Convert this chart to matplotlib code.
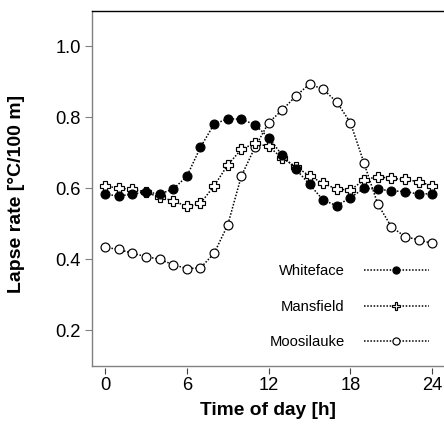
import matplotlib
matplotlib.use("Agg")
import matplotlib.pyplot as plt

plt.rcParams['font.family'] = ['Liberation Sans', 'DejaVu Sans']

hours = list(range(25))
whiteface = [0.583, 0.577, 0.583, 0.589, 0.583, 0.597, 0.633, 0.715, 0.780, 0.795, 0.794, 0.778,
             0.742, 0.692, 0.653, 0.610, 0.566, 0.550, 0.573, 0.599, 0.597, 0.592, 0.590, 0.583, 0.584]
mansfield = [0.606, 0.599, 0.597, 0.588, 0.574, 0.564, 0.548, 0.557, 0.606, 0.665, 0.709, 0.726,
             0.717, 0.684, 0.660, 0.634, 0.613, 0.597, 0.594, 0.623, 0.632, 0.627, 0.624, 0.618, 0.606]
moosilauke = [0.433, 0.427, 0.416, 0.407, 0.399, 0.384, 0.373, 0.375, 0.416, 0.496, 0.634, 0.715,
              0.784, 0.820, 0.859, 0.893, 0.878, 0.842, 0.784, 0.670, 0.555, 0.491, 0.463, 0.454, 0.444]
series_names = ["Whiteface", "Mansfield", "Moosilauke"]
xticks = [0, 6, 12, 18, 24]
yticks = [0.2, 0.4, 0.6, 0.8, 1.0]

W, H = 444, 434
fig = plt.figure(figsize=(W / 100, H / 100), dpi=100)
ax = fig.add_axes([92 / W, 1 - 366 / H, 1 - 92 / W + 0.002, (366 - 11) / H])

ls = (0, (1, 1.1))
common = dict(color='black', linestyle=ls, linewidth=1.1, markeredgewidth=0.85)
ax.plot(hours, moosilauke, marker='o', markerfacecolor='white', markeredgecolor='black',
        markersize=6.4, label=series_names[2], zorder=3, **common)
ax.plot(hours, mansfield, marker='P', markerfacecolor='white', markeredgecolor='black',
        markersize=7.6, label=series_names[1], zorder=4, **common)
ax.plot(hours, whiteface, marker='o', markerfacecolor='black', markeredgecolor='black',
        markersize=6.4, label=series_names[0], zorder=5, **common)

ax.set_xlim(-0.96, 24.93)
ax.set_ylim(0.0986, 1.0986)
ax.set_xticks(xticks)
ax.set_xticklabels([str(v) for v in xticks])
ax.set_yticks(yticks)
ax.set_yticklabels([f"{v:.1f}" for v in yticks])

gray = '#808080'
ax.spines['right'].set_visible(False)
ax.spines['top'].set_color('black')
ax.spines['top'].set_linewidth(1.0)
ax.spines['left'].set_color(gray)
ax.spines['left'].set_linewidth(1.0)
ax.spines['bottom'].set_visible(False)
ax.spines['bottom'].set_position(('outward', 1.5))
# visible bottom border line
ax.plot([0, 1], [0, 0], transform=ax.transAxes, color=gray, linewidth=1.0, clip_on=False)

ax.tick_params(axis='y', direction='out', length=5, width=0.8, color=gray, labelsize=13.2, pad=3)
ax.tick_params(axis='x', direction='out', length=4.5, width=0.8, color='#404040', labelsize=13.2, pad=2)

ax.set_xlabel("Time of day [h]", fontsize=13.8, fontweight='bold')
ax.set_ylabel("Lapse rate [°C/100 m]", fontsize=14, fontweight='bold')
ax.xaxis.set_label_coords(0.5, -0.102)
ax.yaxis.set_label_coords(-0.19, 0.4845)

handles, labels = ax.get_legend_handles_labels()
order = [2, 1, 0]
leg = ax.legend([handles[i] for i in order], [labels[i] for i in order],
                loc='center', bbox_to_anchor=(0.7287, 0.167), frameon=False,
                markerfirst=False, fontsize=10.6, handlelength=4.4, handletextpad=1.3,
                labelspacing=1.45, borderpad=0, markerscale=0.8)

fig.savefig("out.png", dpi=100)
